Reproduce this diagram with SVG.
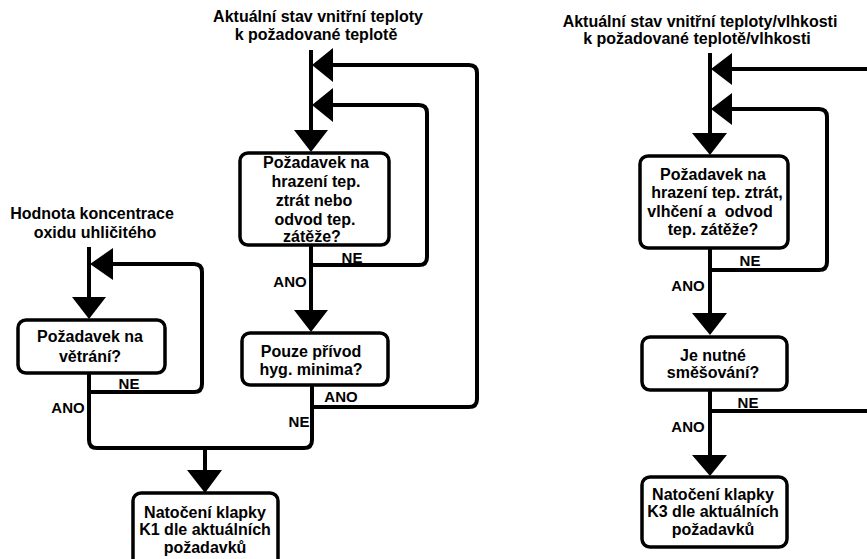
<svg xmlns="http://www.w3.org/2000/svg" width="867" height="559" viewBox="0 0 867 559">
<style>
.bg{fill:#ffffff}
.box{fill:#ffffff;stroke:#000;stroke-width:3.5}
.ln{fill:none;stroke:#000;stroke-width:4;stroke-linejoin:round}
.ah{fill:#000}
text{font-family:"Liberation Sans",Arial,sans-serif;font-weight:bold;fill:#000;text-anchor:middle}
.t{font-size:16px}
.lb{font-size:15px}
</style>
<rect class="bg" x="0" y="0" width="867" height="559"/>

<g id="connectors">
  <!-- left -->
  <path class="ln" d="M89,247 V299"/>
  <path class="ln" d="M110,264 H194 Q202,264 202,272 V384 Q202,392 194,392 H89"/>
  <path class="ln" d="M89,373 V440 Q89,448 97,448 H304 Q312,448 312,440 V385"/>
  <path class="ln" d="M205,448 V472"/>
  <polygon class="ah" points="90,264 113,248 113,280"/>
  <polygon class="ah" points="72,297 106,297 89,319"/>
  <polygon class="ah" points="187,470 222,470 205,493"/>
  <!-- center -->
  <path class="ln" d="M311,50 V132"/>
  <path class="ln" d="M331,65 H469 Q477,65 477,73 V399 Q477,407 469,407 H311"/>
  <path class="ln" d="M331,105 H419 Q427,105 427,113 V257 Q427,265 419,265 H311"/>
  <path class="ln" d="M311,245 V312"/>
  <polygon class="ah" points="312,65 333,48 333,82"/>
  <polygon class="ah" points="312,105 333,88 333,122"/>
  <polygon class="ah" points="294,130 328,130 311,152"/>
  <polygon class="ah" points="294,310 328,310 311,332"/>
  <!-- right -->
  <path class="ln" d="M710,53 V135"/>
  <path class="ln" d="M730,69 H870"/>
  <path class="ln" d="M730,109 H819 Q827,109 827,117 V262 Q827,270 819,270 H710"/>
  <path class="ln" d="M710,248 V315"/>
  <path class="ln" d="M710,390 V457"/>
  <path class="ln" d="M710,411 H870"/>
  <polygon class="ah" points="711,69 732,53 732,85"/>
  <polygon class="ah" points="711,109 732,93 732,125"/>
  <polygon class="ah" points="692,133 727,133 710,155"/>
  <polygon class="ah" points="692,313 727,313 710,335"/>
  <polygon class="ah" points="692,455 727,455 710,476"/>
</g>

<g id="labels">
  <text class="t" x="92" y="219">Hodnota koncentrace</text>
  <text class="t" x="95" y="238">oxidu uhličitého</text>
  <text class="t" x="318" y="22">Aktuální stav vnitřní teploty</text>
  <text class="t" x="316" y="40">k požadované teplotě</text>
  <text class="t" x="700" y="27">Aktuální stav vnitřní teploty/vlhkosti</text>
  <text class="t" x="697" y="44">k požadované teplotě/vlhkosti</text>
  <text class="lb" x="129" y="389">NE</text>
  <text class="lb" x="68" y="413">ANO</text>
  <text class="lb" x="352" y="263">NE</text>
  <text class="lb" x="290" y="287">ANO</text>
  <text class="lb" x="341" y="402">ANO</text>
  <text class="lb" x="299" y="427">NE</text>
  <text class="lb" x="750" y="266">NE</text>
  <text class="lb" x="688" y="291">ANO</text>
  <text class="lb" x="748" y="408">NE</text>
  <text class="lb" x="688" y="432">ANO</text>
</g>

<g id="n_vetrani">
  <rect class="box" x="18" y="320" width="147" height="53" rx="8"/>
  <text class="t" x="90" y="342">Požadavek na</text>
  <text class="t" x="90" y="362">větrání?</text>
</g>

<g id="n_k1">
  <rect class="box" x="133" y="493" width="145" height="75" rx="8"/>
  <text class="t" x="205" y="518">Natočení klapky</text>
  <text class="t" x="205" y="535">K1 dle aktuálních</text>
  <text class="t" x="205" y="553">požadavků</text>
</g>

<g id="n_hrazeni">
  <rect class="box" x="240" y="153" width="149" height="92" rx="8"/>
  <text class="t" x="316" y="168">Požadavek na</text>
  <text class="t" x="316" y="187">hrazení tep.</text>
  <text class="t" x="314" y="206">ztrát nebo</text>
  <text class="t" x="315" y="225">odvod tep.</text>
  <text class="t" x="312" y="242">zátěže?</text>
</g>

<g id="n_pouze">
  <rect class="box" x="242" y="333" width="146" height="52" rx="8"/>
  <text class="t" x="311" y="357">Pouze přívod</text>
  <text class="t" x="311" y="375">hyg. minima?</text>
</g>

<g id="n_hrazeni_vlhceni">
  <rect class="box" x="640" y="156" width="148" height="92" rx="8"/>
  <text class="t" x="713" y="180">Požadavek na</text>
  <text class="t" x="717" y="198">hrazení tep. ztrát,</text>
  <text class="t" x="710" y="217" xml:space="preserve">vlhčení a  odvod</text>
  <text class="t" x="713" y="235">tep. zátěže?</text>
</g>

<g id="n_smesovani">
  <rect class="box" x="642" y="337" width="145" height="53" rx="8"/>
  <text class="t" x="713" y="361">Je nutné</text>
  <text class="t" x="713" y="378">směšování?</text>
</g>

<g id="n_k3">
  <rect class="box" x="642" y="477" width="145" height="70" rx="8"/>
  <text class="t" x="713" y="500">Natočení klapky</text>
  <text class="t" x="713" y="517">K3 dle aktuálních</text>
  <text class="t" x="713" y="535">požadavků</text>
</g>
</svg>
